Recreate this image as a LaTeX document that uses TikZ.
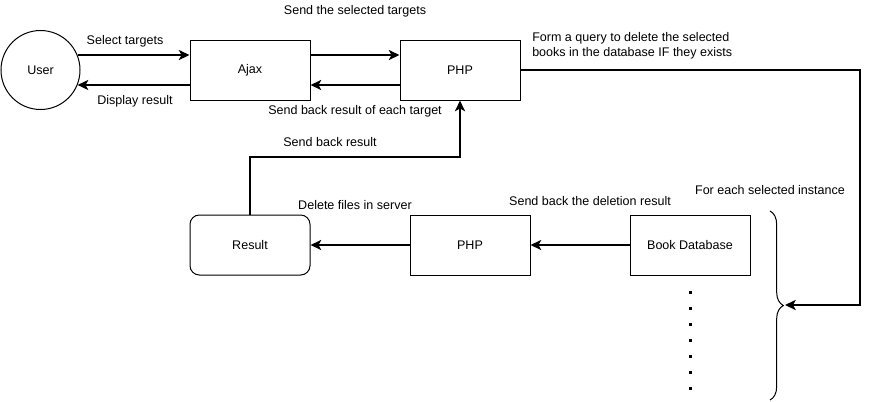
\documentclass[tikz,border=0pt]{standalone}
\usepackage{fontspec}
\setmainfont{Liberation Sans}
\usetikzlibrary{arrows.meta,decorations.pathreplacing}

\begin{document}
\begin{tikzpicture}[x=0.75pt,y=-0.75pt,font=\fontsize{9.4}{11.3}\selectfont,
    box/.style={draw,line width=0.75pt,fill=white,minimum width=90pt,minimum height=45pt,inner sep=0pt},
    conn/.style={line width=1.5pt,-{Stealth[length=8pt,width=7.5pt,inset=2pt]}},
    lbl/.style={inner sep=0pt}]
    \useasboundingbox (0,0) rectangle (870,401);

    \node[draw,circle,line width=0.75pt,minimum size=59.25pt,inner sep=0pt] (user) at (40.5,70) {User};
    \node[box] (ajax) at (250,70) {Ajax};
    \node[box] (php) at (460,70) {PHP};

    \node[box,rounded corners=7pt] (result) at (250,245) {Result};
    \node[box] (php2) at (470,245) {PHP};
    \node[box] (bookdb) at (690,245) {Book Database};

    \node[lbl] (l1) at (125,41) {Select targets};
    \node[lbl] (l2) at (135,101) {Display result};
    \node[lbl] (l3) at (355,11) {Send the selected targets};
    \node[lbl] (l4) at (355,111) {Send back result of each target};
    \node[lbl] (l5) at (330,142) {Send back result};
    \node[lbl,align=left,anchor=west] (l6) at (532,46) {Form a query to delete the selected\\books in the database IF they exists};
    \node[lbl] (l7) at (355,205) {Delete files in server};
    \node[lbl] (l8) at (590,201) {Send back the deletion result};
    \node[lbl] (l9) at (770,190) {For each selected instance};

    \draw[line width=0.75pt,decorate,decoration={brace,amplitude=10pt}] (770,211) -- (770,400);
    \coordinate (bracetip) at (785,305);
    \coordinate (corner) at (860,305);

    \foreach \k in {0,...,6}
        \fill (688.5,290.5+16*\k) rectangle ++(3,3);

    \draw[conn] (user.22) -- (ajax.west |- user.22);
    \draw[conn] (ajax.west |- user.-22) -- (user.-22);
    \draw[conn] ([yshift=11.25pt]ajax.east) -- ([yshift=11.25pt]php.west);
    \draw[conn] ([yshift=-11.25pt]php.west) -- ([yshift=-11.25pt]ajax.east);
    \draw[conn] (php.east) -| (corner) -- (bracetip);
    \draw[conn] (bookdb) -- (php2);
    \draw[conn] (php2) -- (result);
    \draw[conn] (result.north) -- ++(0,-58) -| (php.south);
\end{tikzpicture}
\end{document}
